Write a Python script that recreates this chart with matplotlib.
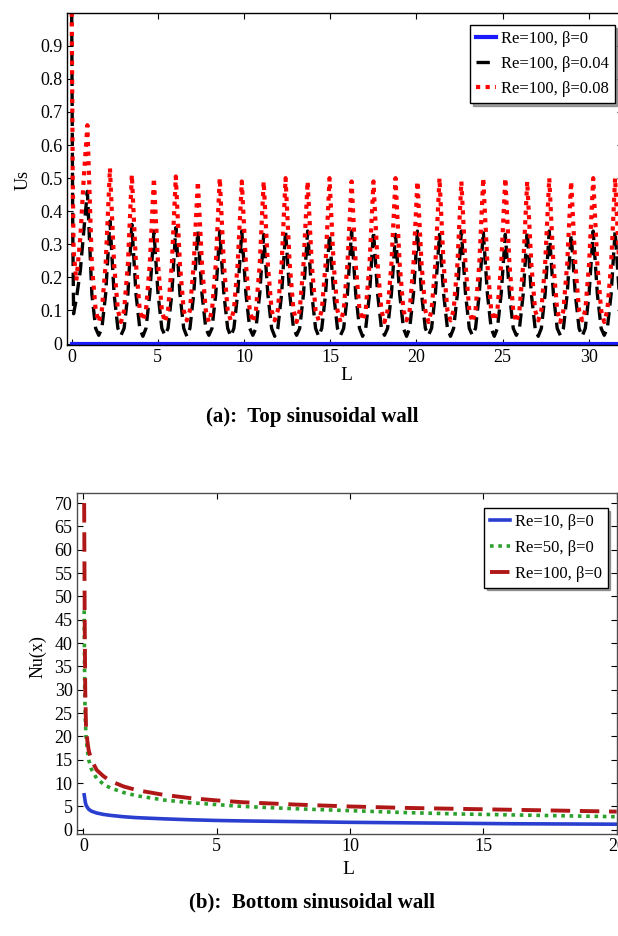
import matplotlib
matplotlib.use('Agg')
import matplotlib.pyplot as plt

plt.rcParams['font.family'] = ['Liberation Serif', 'DejaVu Serif']

# ---- panel (a): Us along the top sinusoidal wall ----
x_top = [0.00, 0.06, 0.11, 0.27, 0.50, 0.70,
         0.91, 1.17, 1.39, 1.57, 1.75, 1.97,
         2.22, 2.46, 2.68, 2.86, 3.04, 3.26,
         3.49, 3.73, 3.95, 4.13, 4.31, 4.53,
         4.77, 5.01, 5.23, 5.41, 5.59, 5.81,
         6.04, 6.28, 6.50, 6.68, 6.86, 7.08,
         7.32, 7.56, 7.78, 7.96, 8.14, 8.36,
         8.59, 8.83, 9.05, 9.23, 9.41, 9.63,
         9.87, 10.11, 10.33, 10.51, 10.69, 10.91,
         11.14, 11.38, 11.60, 11.78, 11.96, 12.18,
         12.41, 12.65, 12.87, 13.05, 13.23, 13.45,
         13.69, 13.93, 14.15, 14.33, 14.51, 14.73,
         14.96, 15.20, 15.42, 15.60, 15.78, 16.00,
         16.24, 16.48, 16.70, 16.88, 17.06, 17.28,
         17.51, 17.75, 17.97, 18.15, 18.33, 18.55,
         18.79, 19.03, 19.25, 19.43, 19.61, 19.83,
         20.06, 20.30, 20.52, 20.70, 20.88, 21.10,
         21.34, 21.58, 21.80, 21.98, 22.16, 22.38,
         22.61, 22.85, 23.07, 23.25, 23.43, 23.65,
         23.88, 24.12, 24.34, 24.52, 24.70, 24.92,
         25.16, 25.40, 25.62, 25.80, 25.98, 26.20,
         26.43, 26.67, 26.89, 27.07, 27.25, 27.47,
         27.71, 27.95, 28.17, 28.35, 28.53, 28.75,
         28.98, 29.22, 29.44, 29.62, 29.80, 30.02,
         30.26, 30.50, 30.72, 30.90, 31.08, 31.30,
         31.53, 31.77, 31.99, 32.17]

us_b004 = [1.00, 0.35, 0.09, 0.135, 0.22, 0.34,
           0.46, 0.15, 0.046, 0.025, 0.046, 0.15,
           0.37, 0.15, 0.046, 0.025, 0.046, 0.15,
           0.36, 0.15, 0.046, 0.022, 0.046, 0.15,
           0.34, 0.15, 0.046, 0.025, 0.046, 0.15,
           0.35, 0.15, 0.046, 0.022, 0.046, 0.15,
           0.34, 0.15, 0.046, 0.025, 0.046, 0.15,
           0.34, 0.15, 0.046, 0.022, 0.046, 0.15,
           0.34, 0.15, 0.046, 0.025, 0.046, 0.15,
           0.33, 0.15, 0.046, 0.022, 0.046, 0.15,
           0.34, 0.15, 0.046, 0.025, 0.046, 0.15,
           0.34, 0.15, 0.046, 0.022, 0.046, 0.15,
           0.33, 0.15, 0.046, 0.025, 0.046, 0.15,
           0.34, 0.15, 0.046, 0.022, 0.046, 0.15,
           0.34, 0.15, 0.046, 0.025, 0.046, 0.15,
           0.33, 0.15, 0.046, 0.022, 0.046, 0.15,
           0.34, 0.15, 0.046, 0.025, 0.046, 0.15,
           0.33, 0.15, 0.046, 0.022, 0.046, 0.15,
           0.34, 0.15, 0.046, 0.025, 0.046, 0.15,
           0.34, 0.15, 0.046, 0.022, 0.046, 0.15,
           0.33, 0.15, 0.046, 0.025, 0.046, 0.15,
           0.34, 0.15, 0.046, 0.022, 0.046, 0.15,
           0.34, 0.15, 0.046, 0.025, 0.046, 0.15,
           0.33, 0.15, 0.046, 0.022, 0.046, 0.15,
           0.34, 0.15, 0.046, 0.025, 0.046, 0.15,
           0.34, 0.15, 0.046, 0.025]

us_b008 = [1.00, 0.50, 0.28, 0.19, 0.32, 0.50,
           0.66, 0.24, 0.10, 0.065, 0.10, 0.24,
           0.53, 0.24, 0.10, 0.065, 0.10, 0.24,
           0.51, 0.24, 0.10, 0.07, 0.10, 0.24,
           0.50, 0.24, 0.10, 0.065, 0.10, 0.24,
           0.505, 0.24, 0.10, 0.07, 0.10, 0.24,
           0.49, 0.24, 0.10, 0.065, 0.10, 0.24,
           0.50, 0.24, 0.10, 0.07, 0.10, 0.24,
           0.49, 0.24, 0.10, 0.065, 0.10, 0.24,
           0.49, 0.24, 0.10, 0.07, 0.10, 0.24,
           0.50, 0.24, 0.10, 0.065, 0.10, 0.24,
           0.49, 0.24, 0.10, 0.07, 0.10, 0.24,
           0.50, 0.24, 0.10, 0.065, 0.10, 0.24,
           0.49, 0.24, 0.10, 0.07, 0.10, 0.24,
           0.49, 0.24, 0.10, 0.065, 0.10, 0.24,
           0.50, 0.24, 0.10, 0.07, 0.10, 0.24,
           0.49, 0.24, 0.10, 0.065, 0.10, 0.24,
           0.50, 0.24, 0.10, 0.07, 0.10, 0.24,
           0.49, 0.24, 0.10, 0.065, 0.10, 0.24,
           0.50, 0.24, 0.10, 0.07, 0.10, 0.24,
           0.50, 0.24, 0.10, 0.065, 0.10, 0.24,
           0.49, 0.24, 0.10, 0.07, 0.10, 0.24,
           0.50, 0.24, 0.10, 0.065, 0.10, 0.24,
           0.49, 0.24, 0.10, 0.07, 0.10, 0.24,
           0.50, 0.24, 0.10, 0.065, 0.10, 0.24,
           0.50, 0.24, 0.10, 0.065]

x_b0 = [0.0, 32.2]
us_b0 = [0.0, 0.0]

top_labels = ['Re=100, β=0', 'Re=100, β=0.04', 'Re=100, β=0.08']
top_yticks = [0, 0.1, 0.2, 0.3, 0.4, 0.5, 0.6, 0.7, 0.8, 0.9]
top_yticklabels = ['0', '0.1', '0.2', '0.3', '0.4', '0.5', '0.6', '0.7', '0.8', '0.9']
top_xticks = [0, 5, 10, 15, 20, 25, 30]

# ---- panel (b): Nu(x) along the bottom sinusoidal wall ----
x_nu = [0.03, 0.05, 0.07, 0.1, 0.15, 0.2, 0.3, 0.5, 0.75, 1, 1.5, 2,
        3, 4, 5, 6, 8, 10, 12, 14, 16, 18, 20]
nu_re10 = [7.5, 6.8, 6.0, 5.3, 4.8, 4.4, 4.0, 3.6, 3.3, 3.1, 2.8, 2.6,
           2.35, 2.15, 2.0, 1.9, 1.75, 1.6, 1.5, 1.4, 1.3, 1.25, 1.2]
nu_re50 = [47, 30, 24, 20, 17, 15, 13, 11, 9.8, 9.0, 8.0, 7.3,
           6.4, 5.8, 5.4, 5.0, 4.5, 4.1, 3.7, 3.4, 3.2, 3.0, 2.8]
nu_re100 = [70, 45, 30, 22, 19, 17, 15, 12.8, 11.5, 10.5, 9.3, 8.5,
            7.5, 6.8, 6.3, 5.9, 5.4, 5.0, 4.7, 4.5, 4.3, 4.1, 3.9]

bot_labels = ['Re=10, β=0', 'Re=50, β=0', 'Re=100, β=0']
bot_yticks = list(range(0, 75, 5))
bot_xticks = [0, 5, 10, 15, 20]

W, H = 618, 936
fig = plt.figure(figsize=(W / 100, H / 100), dpi=100)

def box(l, t, r, b):
    return [l / W, 1 - b / H, (r - l) / W, (b - t) / H]

def style(ax, spine_color):
    for s in ax.spines.values():
        s.set_color(spine_color)
        s.set_linewidth(1.0)
    ax.tick_params(direction='in', top=True, right=True, length=4, width=0.8,
                   labelsize=13, pad=3, colors='black')

# top panel
ax1 = fig.add_axes(box(66.7, 12.7, 623.2, 345.2))
ax1.plot(x_b0, us_b0, color='#1a1aff', lw=3.0, label=top_labels[0])
ax1.plot(x_top, us_b004, color='black', lw=2.4, linestyle=(0, (4, 2)), label=top_labels[1])
ax1.plot(x_top, us_b008, color='red', lw=3.0, linestyle=(0, (1, 1.3)), label=top_labels[2])
ax1.set_xlim(-0.29, 32.0)
ax1.set_ylim(-0.005, 1.0)
ax1.set_yticks(top_yticks)
ax1.set_yticklabels(top_yticklabels)
ax1.set_xticks(top_xticks)
style(ax1, 'black')
leg1 = ax1.legend(loc='upper left', bbox_to_anchor=(470 / W, 1 - 25 / H),
                  bbox_transform=fig.transFigure, borderaxespad=0, fontsize=12,
                  handlelength=1.2, handletextpad=0.3, labelspacing=0.55,
                  borderpad=0.35, fancybox=False, shadow=True, framealpha=1)
leg1.get_frame().set_edgecolor('black')
leg1.get_frame().set_linewidth(1.0)

fig.text(23 / W, 1 - 180 / H, 'Us', rotation=90, ha='center', va='center', fontsize=13)
fig.text(346 / W, 1 - 376 / H, 'L', ha='center', va='center', fontsize=14)
fig.text(312 / W, 1 - 417 / H, '(a):  Top sinusoidal wall', ha='center', va='center',
         fontsize=15, fontweight='bold')

# bottom panel
ax2 = fig.add_axes(box(76.7, 493.3, 616.7, 834))
ax2.plot(x_nu, nu_re10, color='#2a3fd0', lw=2.6, label=bot_labels[0])
ax2.plot(x_nu, nu_re50, color='#2ca02c', lw=2.6, linestyle=(0, (1, 1.3)), label=bot_labels[1])
ax2.plot(x_nu, nu_re100, color='#b01818', lw=2.8, linestyle=(0, (5, 2.5)), label=bot_labels[2])
ax2.set_xlim(-0.25, 20)
ax2.set_ylim(-0.9, 72.1)
ax2.set_yticks(bot_yticks)
ax2.set_xticks(bot_xticks)
style(ax2, '0.3')
leg2 = ax2.legend(loc='upper left', bbox_to_anchor=(484 / W, 1 - 508 / H),
                  bbox_transform=fig.transFigure, borderaxespad=0, fontsize=12,
                  handlelength=1.2, handletextpad=0.3, labelspacing=0.6,
                  borderpad=0.35, fancybox=False, shadow=True, framealpha=1)
leg2.get_frame().set_edgecolor('black')
leg2.get_frame().set_linewidth(1.0)

fig.text(38 / W, 1 - 657 / H, 'Nu(x)', rotation=90, ha='center', va='center', fontsize=13)
fig.text(348 / W, 1 - 870 / H, 'L', ha='center', va='center', fontsize=14)
fig.text(312 / W, 1 - 902 / H, '(b):  Bottom sinusoidal wall', ha='center', va='center',
         fontsize=15, fontweight='bold')

fig.savefig('out.png', dpi=100)
